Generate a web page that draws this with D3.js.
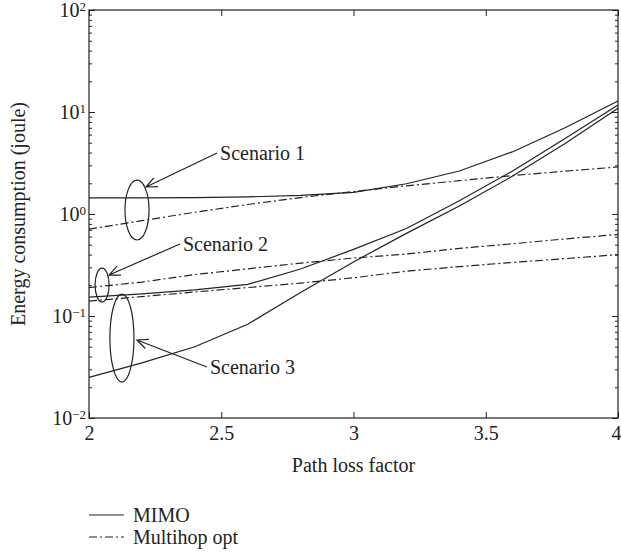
<!DOCTYPE html>
<html>
<head>
<meta charset="utf-8">
<script src="https://cdn.jsdelivr.net/npm/d3@7"></script>
<style>
  html, body { margin: 0; padding: 0; background: #fff; }
  svg { display: block; }
  text { font-family: "Liberation Serif", "DejaVu Serif", serif; fill: #222; }
</style>
</head>
<body>
<svg id="chart" width="621" height="556"></svg>
<script>
// Path loss factor samples
const pathLoss = [2.0, 2.2, 2.4, 2.6, 2.8, 3.0, 3.2, 3.4, 3.6, 3.8, 4.0];

// Energy consumption (joule) per scenario
const mimoS1     = [1.44, 1.44, 1.45, 1.47, 1.52, 1.63, 1.98, 2.64, 4.06, 7.0, 12.8];
const multihopS1 = [0.71, 0.86, 1.04, 1.24, 1.45, 1.66, 1.89, 2.12, 2.38, 2.63, 2.89];
const mimoS2     = [0.153, 0.165, 0.180, 0.204, 0.289, 0.45, 0.72, 1.35, 2.63, 5.5, 11.7];
const multihopS2 = [0.19, 0.215, 0.255, 0.29, 0.33, 0.37, 0.405, 0.46, 0.51, 0.57, 0.63];
const mimoS3     = [0.025, 0.0347, 0.050, 0.083, 0.17, 0.339, 0.646, 1.2, 2.34, 4.9, 10.9];
const multihopS3 = [0.14, 0.155, 0.172, 0.19, 0.21, 0.237, 0.275, 0.305, 0.335, 0.365, 0.40];

const xTicks = [2, 2.5, 3, 3.5, 4];
const yTickExponents = [-2, -1, 0, 1, 2];

const seriesList = [
  { values: mimoS1, style: "MIMO" },
  { values: multihopS1, style: "Multihop opt" },
  { values: mimoS2, style: "MIMO" },
  { values: multihopS2, style: "Multihop opt" },
  { values: mimoS3, style: "MIMO" },
  { values: multihopS3, style: "Multihop opt" }
];

// Scenario callouts: ellipse extents and arrow ends, in data units
const scenarioLabels = ["Scenario 1", "Scenario 2", "Scenario 3"];
const ellipseX = [[2.136, 2.227], [2.023, 2.076], [2.079, 2.170]];
const ellipseY = [[2.15, 0.556], [0.295, 0.137], [0.164, 0.0225]];
const arrowFrom = [[2.484, 3.96], [2.344, 0.508], [2.446, 0.0316]];
const arrowTo = [[2.2155, 1.84], [2.0756, 0.252], [2.181, 0.0582]];

const legendItems = ["MIMO", "Multihop opt"];
const dashFor = { "MIMO": null, "Multihop opt": "8,3,2,3" };

const svg = d3.select("#chart");
const margin = { left: 89, right: 3, top: 10, bottom: 138 };
const W = 621, H = 556;
const x = d3.scaleLinear().domain([2, 4]).range([margin.left, W - margin.right]);
const y = d3.scaleLog().domain([1e-2, 1e2]).range([H - margin.bottom, margin.top]);

const stroke = "#222";
const fontSize = "20px";

// Axes: major ticks on bottom/top, log ticks on left/right, all pointing inward
const minorY = [];
for (let e = -2; e < 2; e++) for (let k = 1; k <= 9; k++) minorY.push(k * Math.pow(10, e));
minorY.push(100);
const isDecade = d => yTickExponents.some(e => Math.abs(Math.log10(d) - e) < 1e-9);

function styleAxis(g) {
  g.select(".domain").remove();
  g.selectAll("line").attr("stroke", stroke).attr("stroke-width", 1);
}

svg.append("g").attr("transform", `translate(0,${y.range()[0]})`)
  .call(d3.axisBottom(x).tickValues(xTicks).tickSize(-6).tickFormat(d3.format("")))
  .call(styleAxis)
  .call(g => g.selectAll("text").attr("y", 8).attr("dy", "0.71em")
    .style("font-size", fontSize).style("font-family", "Liberation Serif").attr("fill", "#222"))
  // keep the last label inside the page edge
  .call(g => g.selectAll(".tick").filter(d => d === 4).select("text")
    .attr("text-anchor", "end").attr("x", 3));

svg.append("g").attr("transform", `translate(0,${y.range()[1]})`)
  .call(d3.axisTop(x).tickValues(xTicks).tickSize(-6).tickFormat(""))
  .call(styleAxis);

svg.append("g").attr("transform", `translate(${x.range()[0]},0)`)
  .call(d3.axisLeft(y).tickValues(minorY).tickSize(-3).tickFormat(""))
  .call(styleAxis)
  .call(g => g.selectAll(".tick line").filter(isDecade).attr("x2", 6));

svg.append("g").attr("transform", `translate(${x.range()[1]},0)`)
  .call(d3.axisRight(y).tickValues(minorY).tickSize(-3).tickFormat(""))
  .call(styleAxis)
  .call(g => g.selectAll(".tick line").filter(isDecade).attr("x2", -6));

// y tick labels: 10 with a superscript exponent
const yLab = svg.append("g");
yTickExponents.forEach(e => {
  const t = yLab.append("text")
    .attr("x", x.range()[0] - 3)
    .attr("y", y(Math.pow(10, e)) + 7)
    .attr("text-anchor", "end")
    .style("font-size", fontSize);
  t.append("tspan").text("10");
  t.append("tspan").attr("dy", -6).style("font-size", "13px")
    .text(e < 0 ? "\u2212" + Math.abs(e) : String(e));
});

// Frame
svg.append("rect")
  .attr("x", x.range()[0]).attr("y", y.range()[1])
  .attr("width", x.range()[1] - x.range()[0])
  .attr("height", y.range()[0] - y.range()[1])
  .attr("fill", "none").attr("stroke", stroke).attr("stroke-width", 1.2);

// Curves
const line = d3.line().x(d => x(d[0])).y(d => y(d[1]));
seriesList.forEach(s => {
  svg.append("path")
    .datum(pathLoss.map((p, i) => [p, s.values[i]]))
    .attr("d", line)
    .attr("fill", "none")
    .attr("stroke", stroke)
    .attr("stroke-width", 1.2)
    .attr("stroke-dasharray", dashFor[s.style]);
});

// Scenario callouts
scenarioLabels.forEach((lab, i) => {
  const cx = (x(ellipseX[i][0]) + x(ellipseX[i][1])) / 2;
  const cy = (y(ellipseY[i][0]) + y(ellipseY[i][1])) / 2;
  svg.append("ellipse")
    .attr("cx", cx).attr("cy", cy)
    .attr("rx", Math.abs(x(ellipseX[i][1]) - x(ellipseX[i][0])) / 2)
    .attr("ry", Math.abs(y(ellipseY[i][1]) - y(ellipseY[i][0])) / 2)
    .attr("fill", "none").attr("stroke", stroke).attr("stroke-width", 1.2);

  const x0 = x(arrowFrom[i][0]), y0 = y(arrowFrom[i][1]);
  const x1 = x(arrowTo[i][0]), y1 = y(arrowTo[i][1]);
  const ang = Math.atan2(y1 - y0, x1 - x0);
  const head = 12, spread = 0.42;
  const p = d3.path();
  p.moveTo(x0, y0); p.lineTo(x1, y1);
  p.moveTo(x1 - head * Math.cos(ang - spread), y1 - head * Math.sin(ang - spread));
  p.lineTo(x1, y1);
  p.lineTo(x1 - head * Math.cos(ang + spread), y1 - head * Math.sin(ang + spread));
  svg.append("path").attr("d", p.toString())
    .attr("fill", "none").attr("stroke", stroke).attr("stroke-width", 1.2);

  svg.append("text")
    .attr("x", x0 + 3).attr("y", y0 + 7)
    .style("font-size", fontSize)
    .text(lab);
});

// Axis titles
svg.append("text")
  .attr("x", (x.range()[0] + x.range()[1]) / 2)
  .attr("y", 472)
  .attr("text-anchor", "middle")
  .style("font-size", fontSize)
  .text("Path loss factor");

svg.append("text")
  .attr("transform", `translate(25,${(y.range()[0] + y.range()[1]) / 2}) rotate(-90)`)
  .attr("text-anchor", "middle")
  .style("font-size", fontSize)
  .text("Energy consumption (joule)");

// Legend
const lg = svg.append("g");
legendItems.forEach((name, i) => {
  const ly = 515 + i * 22;
  lg.append("line")
    .attr("x1", 89).attr("x2", 124).attr("y1", ly).attr("y2", ly)
    .attr("stroke", stroke).attr("stroke-width", 1.2)
    .attr("stroke-dasharray", dashFor[name]);
  lg.append("text").attr("x", 133).attr("y", ly + 7)
    .style("font-size", fontSize).text(name);
});
</script>
</body>
</html>
